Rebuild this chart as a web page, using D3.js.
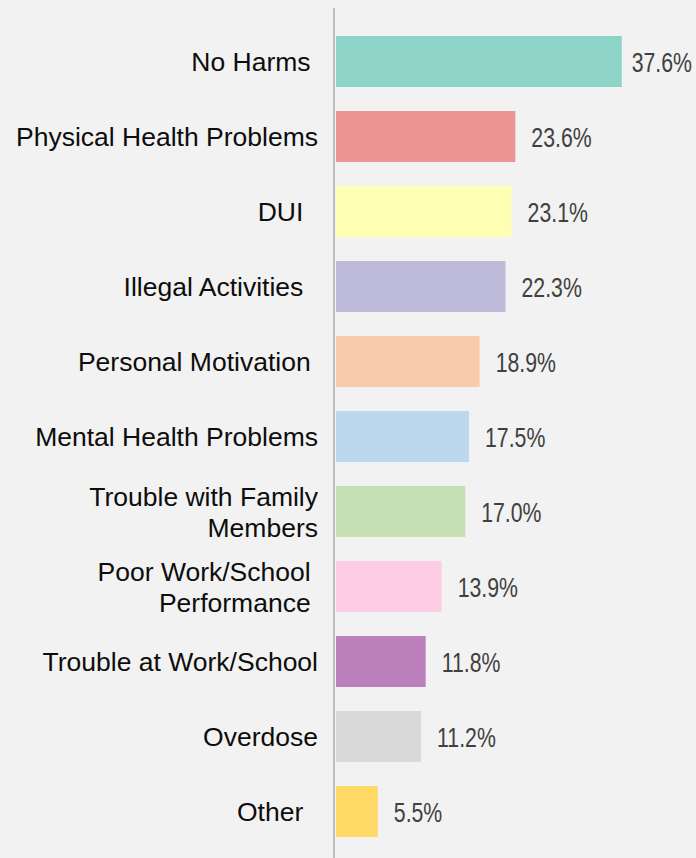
<!DOCTYPE html>
<html>
<head>
<meta charset="utf-8">
<script src="https://cdn.jsdelivr.net/npm/d3@7"></script>
<style>
  body { margin: 0; background: #f2f2f2; }
  svg text { white-space: pre; }
</style>
</head>
<body>
<div id="my_dataviz"></div>
<script>
// data
const categories = [
  ["No Harms "],
  ["Physical Health Problems"],
  ["DUI  "],
  ["Illegal Activities  "],
  ["Personal Motivation "],
  ["Mental Health Problems"],
  ["Trouble with Family", "Members"],
  ["Poor Work/School ", "Performance "],
  ["Trouble at Work/School"],
  ["Overdose"],
  ["Other  "]
]
const values = [37.6, 23.6, 23.1, 22.3, 18.9, 17.5, 17.0, 13.9, 11.8, 11.2, 5.5]
const valueLabels = ["37.6%", "23.6%", "23.1%", "22.3%", "18.9%", "17.5%", "17.0%", "13.9%", "11.8%", "11.2%", "5.5%"]
const colors = ["#8dd3c7", "#ea9593", "#ffffb3", "#bebada", "#f8cbad", "#bdd7ee",
                "#c5e0b3", "#fccde5", "#bc80bd", "#d9d9d9", "#ffd966"]

const width = 696, height = 858

const svg = d3.select("#my_dataviz")
    .append("svg")
    .attr("width", width)
    .attr("height", height)

svg.append("rect")
    .attr("width", width)
    .attr("height", height)
    .attr("fill", "#f2f2f2")

const idx = d3.range(values.length)

// scales
const x = d3.scaleLinear()
    .domain([0, 40])
    .range([336, 640])

const y = d3.scaleBand()
    .domain(idx)
    .range([24, 849])
    .paddingInner(0.32)
    .paddingOuter(0.16)

// bars
svg.append("g")
    .selectAll("rect")
    .data(idx)
    .join("rect")
      .attr("x", x(0))
      .attr("y", i => y(i))
      .attr("width", i => x(values[i]) - x(0))
      .attr("height", y.bandwidth())
      .attr("fill", i => colors[i])

// vertical axis line
svg.append("line")
    .attr("x1", 334).attr("x2", 334)
    .attr("y1", 8).attr("y2", height)
    .attr("stroke", "#bfbfbf")
    .attr("stroke-width", 2)

// category labels
const lineH = 31
const cats = svg.append("g")
    .selectAll("text")
    .data(idx)
    .join("text")
      .attr("text-anchor", "end")
      .attr("font-family", "'Liberation Sans', Arial, sans-serif")
      .attr("font-size", 26.5)
      .attr("fill", "#0d0d0d")

cats.each(function(i) {
  const lines = categories[i]
  const cy = y(i) + y.bandwidth() / 2
  const first = cy + 9.5 - (lines.length - 1) * lineH / 2
  d3.select(this).selectAll("tspan")
    .data(lines)
    .join("tspan")
      .attr("x", 318)
      .attr("y", (d, k) => first + k * lineH)
      .text(d => d)
})

// value labels (narrow look: squeeze horizontally)
const squeeze = 0.76
svg.append("g")
    .selectAll("text")
    .data(idx)
    .join("text")
      .attr("font-family", "'Liberation Sans', Arial, sans-serif")
      .attr("font-size", 28)
      .attr("fill", "#404040")
      .text(i => valueLabels[i])
      .attr("transform", function(i) {
        const w = this.getComputedTextLength() * squeeze
        const tx = Math.min(x(values[i]) + 16, width - 4 - w)
        const ty = y(i) + y.bandwidth() / 2 + 10
        return `translate(${tx}, ${ty}) scale(${squeeze}, 1)`
      })
</script>
</body>
</html>
